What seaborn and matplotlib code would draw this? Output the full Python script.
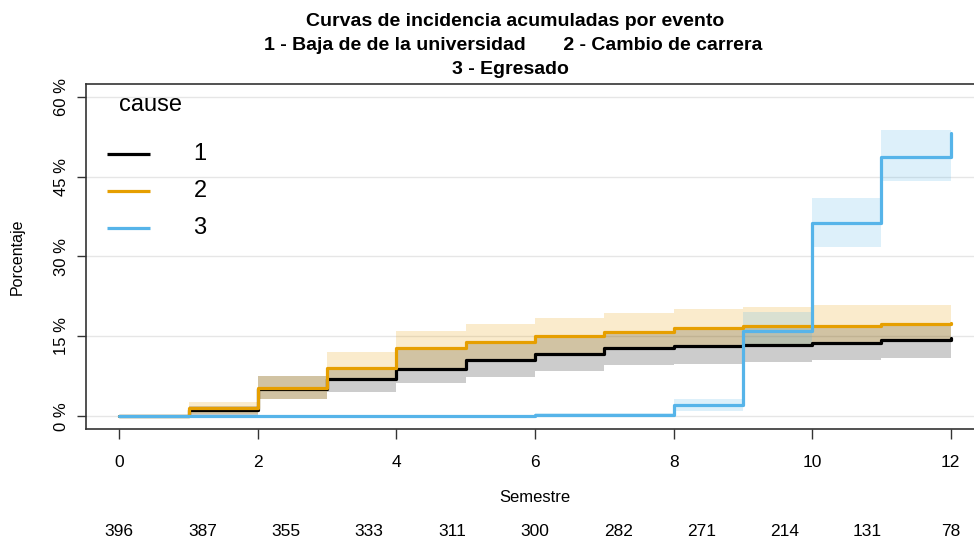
import numpy as np
import pandas as pd
import matplotlib
matplotlib.use("Agg")
import matplotlib.pyplot as plt
import matplotlib.transforms as mtransforms
import seaborn as sns

# Semester grid and cumulative incidence (%) per cause
semestres = [0, 1, 2, 3, 4, 5, 6, 7, 8, 9, 10, 11, 12]

ci_baja = [0, 1.1, 5.2, 6.9, 8.8, 10.5, 11.7, 12.8, 13.1, 13.3, 13.8, 14.4, 14.7]
ci_baja_lo = [0, 0.1, 3.2, 4.5, 6.3, 7.4, 8.5, 9.7, 9.9, 10.2, 10.5, 11.0, 11.0]
ci_baja_hi = [0, 2.0, 7.5, 9.0, 12.6, 13.9, 15.0, 15.7, 16.4, 16.8, 16.9, 17.3, 17.3]

ci_cambio = [0, 1.5, 5.3, 9.0, 12.8, 14.0, 15.1, 15.8, 16.5, 16.9, 17.0, 17.4, 17.6]
ci_cambio_lo = [0, 0.4, 3.3, 6.9, 8.9, 10.6, 11.8, 12.9, 13.2, 13.4, 13.9, 14.5, 14.5]
ci_cambio_hi = [0, 2.7, 7.6, 12.0, 16.0, 17.3, 18.5, 19.3, 20.1, 20.6, 20.8, 20.9, 20.9]

ci_egreso = [0, 0, 0, 0, 0, 0, 0.3, 0.3, 2.2, 16.0, 36.2, 48.7, 53.2]
ci_egreso_lo = [0, 0, 0, 0, 0, 0, 0.0, 0.0, 1.0, 13.0, 31.7, 44.2, 44.2]
ci_egreso_hi = [0, 0, 0, 0, 0, 0, 0.6, 0.6, 3.3, 19.6, 41.0, 53.7, 53.7]

causas = ["1", "2", "3"]
colores = ["#000000", "#E69F00", "#56B4E9"]

# Number at risk shown below the axis
riesgo_t = [0, 1.2, 2.4, 3.6, 4.8, 6.0, 7.2, 8.4, 9.6, 10.8, 12.0]
riesgo_n = [396, 387, 355, 333, 311, 300, 282, 271, 214, 131, 78]

yticks = [0, 15, 30, 45, 60]
xticks = [0, 2, 4, 6, 8, 10, 12]

sns.set_theme(style="white")
plt.rcParams["font.family"] = ["Liberation Sans", "DejaVu Sans"]
plt.rcParams["text.color"] = "black"
plt.rcParams["axes.labelcolor"] = "black"
plt.rcParams["xtick.color"] = "black"
plt.rcParams["ytick.color"] = "black"

df = pd.DataFrame({
    "Semestre": semestres * 3,
    "Porcentaje": ci_baja + ci_cambio + ci_egreso,
    "cause": sum([[c] * len(semestres) for c in causas], []),
})

W, H = 974, 540
AX_L, AX_R, AX_T, AX_B = 86, 984, 84, 429
fig = plt.figure(figsize=(W / 100, H / 100), dpi=100)
ax = fig.add_axes([AX_L / W, 1 - AX_B / H, (AX_R - AX_L) / W, (AX_B - AX_T) / H])


def ax_xy(px, py):
    """pixel position -> axes fraction"""
    return (px - AX_L) / (AX_R - AX_L), (AX_B - py) / (AX_B - AX_T)


# horizontal reference lines
for yv in yticks:
    ax.axhline(yv, color="#e6e6e6", lw=1.0, zorder=0)

# confidence bands
bandas = [(ci_baja_lo, ci_baja_hi), (ci_cambio_lo, ci_cambio_hi), (ci_egreso_lo, ci_egreso_hi)]
for (lo, hi), col in zip(bandas, colores):
    ax.fill_between(semestres, lo, hi, step="post", color=col, alpha=0.2, lw=0, zorder=1)

# step curves
sns.lineplot(data=df, x="Semestre", y="Porcentaje", hue="cause", palette=colores,
             estimator=None, drawstyle="steps-post", lw=2.3, legend=False, ax=ax, zorder=3)

ax.set_xlim(-0.48, 12.48)
ax.set_ylim(-2.4, 62.4)
ax.set_xticks(xticks)
ax.set_xticklabels([str(v) for v in xticks], fontsize=12.5)
ax.set_yticks(yticks)
ax.set_yticklabels([f"{v} %" for v in yticks], fontsize=12, rotation=90, va="center")
ax.tick_params(axis="x", length=7.5, width=1, color="#333333", pad=11, direction="out", bottom=True)
ax.tick_params(axis="y", length=6.5, width=1, color="#333333", pad=6, direction="out", left=True)
for sp in ax.spines.values():
    sp.set_color("#333333")
    sp.set_linewidth(1.2)

ax.set_xlabel("Semestre", fontsize=12, labelpad=0)
ax.xaxis.set_label_coords(0.5, -(497 - AX_B) / (AX_B - AX_T))
ax.xaxis.label.set_va("center")
ax.set_ylabel("Porcentaje", fontsize=11.5)
ax.yaxis.set_label_coords(-(AX_L - 17) / (AX_R - AX_L), 0.5)
ax.yaxis.label.set_va("center")

# legend: title, then one line sample + label per cause
tx, ty = ax_xy(151, 105)
ax.text(tx, ty, "cause", transform=ax.transAxes, ha="center", va="center", fontsize=17)
for py, lab, col in zip([154, 191, 228], causas, colores):
    x0, yy = ax_xy(107, py)
    x1, _ = ax_xy(150, py)
    ax.plot([x0, x1], [yy, yy], color=col, lw=2.3, transform=ax.transAxes,
            solid_capstyle="butt", zorder=4)
    lx, _ = ax_xy(200, py)
    ax.text(lx, yy, lab, transform=ax.transAxes, ha="center", va="center", fontsize=17)

# titles
fig.text(515 / W, 1 - 21 / H, "Curvas de incidencia acumuladas por evento",
         ha="center", va="center", fontsize=14, fontweight="bold")
fig.text(513 / W, 1 - 46 / H, "1 - Baja de de la universidad       2 - Cambio de carrera",
         ha="center", va="center", fontsize=14, fontweight="bold")
fig.text(510 / W, 1 - 70 / H, "3 - Egresado",
         ha="center", va="center", fontsize=14, fontweight="bold")

# number at risk row
trans = mtransforms.blended_transform_factory(ax.transData, fig.transFigure)
for t, n in zip(riesgo_t, riesgo_n):
    ax.text(t, 1 - 531 / H, str(n), transform=trans, ha="center", va="center",
            fontsize=12.5, clip_on=False)

fig.savefig("out.png", dpi=100)
